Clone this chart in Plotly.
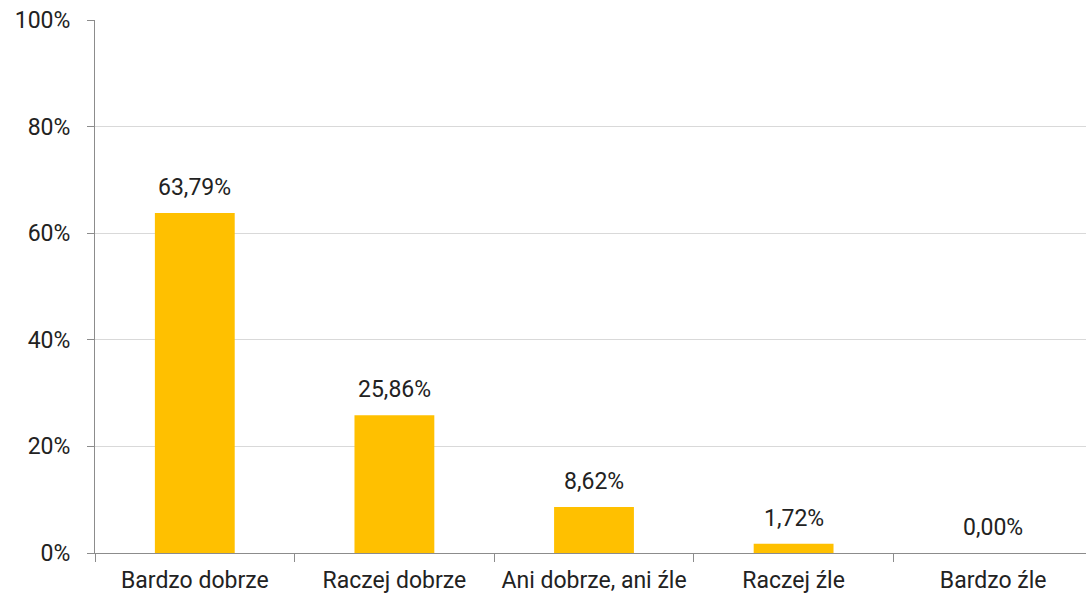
import plotly.graph_objects as go

categories = ["Bardzo dobrze", "Raczej dobrze", "Ani dobrze, ani źle", "Raczej źle", "Bardzo źle"]
values = [63.79, 25.86, 8.62, 1.72, 0.00]
y_ticks = [0, 20, 40, 60, 80, 100]
y_tick_labels = [f"{t}%" for t in y_ticks]

FONT = "Roboto, 'Noto Sans', sans-serif"
FS = 23
fig = go.Figure()
fig.add_trace(go.Bar(
    x=categories, y=values,
    marker=dict(color="#FFC000", line=dict(width=0)),
    width=0.4,
    hoverinfo="skip",
))
for c, v in zip(categories, values):
    fig.add_annotation(
        x=c, y=v, text=f"{v:.2f}".replace(".", ",") + "%",
        showarrow=False, yanchor="bottom", yshift=10,
        font=dict(family=FONT, size=FS, color="#222222"),
    )

fig.update_layout(
    width=1093, height=599,
    margin=dict(l=95, r=0, t=20, b=46),
    plot_bgcolor="white", paper_bgcolor="white",
    showlegend=False,
    separators=",.",
    font=dict(family=FONT, size=FS, color="#222222"),
)
fig.update_yaxes(
    range=[0, 100], tickmode="array", tickvals=y_ticks, ticktext=y_tick_labels,
    showgrid=True, gridcolor="#d9d9d9", gridwidth=1,
    showline=True, linecolor="#8c8c8c", linewidth=1,
    ticks="outside", ticklen=7, tickcolor="#8c8c8c",
    ticklabelstandoff=12,
    zeroline=False, fixedrange=True,
    tickfont=dict(family=FONT, size=FS, color="#222222"),
)
fig.update_xaxes(
    showline=True, linecolor="#8c8c8c", linewidth=1,
    ticks="outside", ticklen=8, tickcolor="#8c8c8c",
    ticklabelstandoff=6,
    tickson="boundaries", showgrid=False,
    tickfont=dict(family=FONT, size=FS, color="#222222"),
    fixedrange=True,
)
fig.write_html("out.html", config={"displayModeBar": False},
               post_script="document.body.style.margin='0';document.body.style.overflow='hidden';")
